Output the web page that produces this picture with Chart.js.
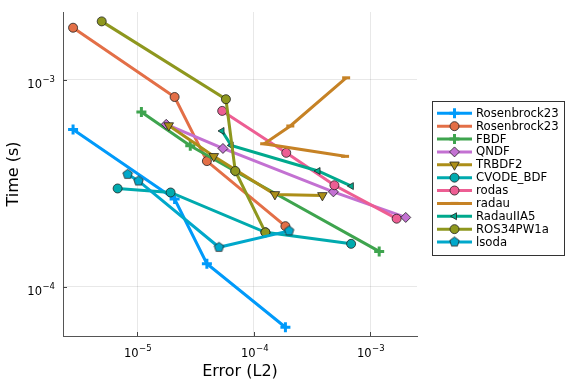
<!DOCTYPE html>
<html>
<head>
<meta charset="utf-8">
<script src="https://cdn.jsdelivr.net/npm/chart.js@4"></script>
<style>
  html, body { margin: 0; padding: 0; background: #fff; }
</style>
</head>
<body>
<canvas id="chart" width="576" height="384"></canvas>
<script>
// error (L2) and time (s) per solver
const rosenAErr = [2.83e-6, 2.10e-5, 3.97e-5, 1.87e-4];
const rosenATime = [5.74e-4, 2.65e-4, 1.29e-4, 6.37e-5];
const rosenBErr = [2.83e-6, 2.10e-5, 3.97e-5, 1.87e-4];
const rosenBTime = [1.78e-3, 8.24e-4, 4.04e-4, 1.96e-4];
const fbdfErr = [1.09e-5, 2.86e-5, 6.95e-5, 1.19e-3];
const fbdfTime = [6.98e-4, 4.79e-4, 3.61e-4, 1.48e-4];
const qndfErr = [1.78e-5, 5.45e-5, 4.82e-4, 2.01e-3];
const qndfTime = [6.08e-4, 4.65e-4, 2.87e-4, 2.16e-4];
const trbdf2Err = [1.87e-5, 4.55e-5, 1.52e-4, 3.88e-4];
const trbdf2Time = [6.00e-4, 4.26e-4, 2.79e-4, 2.76e-4];
const cvodeErr = [6.82e-6, 1.94e-5, 1.26e-4, 6.84e-4];
const cvodeTime = [2.98e-4, 2.85e-4, 1.83e-4, 1.61e-4];
const rodasErr = [5.37e-5, 1.90e-4, 4.92e-4, 1.68e-3];
const rodasTime = [7.06e-4, 4.43e-4, 3.09e-4, 2.13e-4];
const radauErr = [6.07e-4, 1.23e-4, 2.06e-4, 6.20e-4];
const radauTime = [4.26e-4, 4.90e-4, 5.97e-4, 1.02e-3];
const radau5Err = [5.35e-5, 6.41e-5, 3.56e-4, 6.87e-4];
const radau5Time = [5.65e-4, 4.81e-4, 3.62e-4, 3.06e-4];
const rosPwErr = [4.98e-6, 5.78e-5, 6.95e-5, 1.26e-4];
const rosPwTime = [1.91e-3, 8.04e-4, 3.62e-4, 1.83e-4];
const lsodaErr = [8.31e-6, 1.03e-5, 5.04e-5, 2.01e-4];
const lsodaTime = [3.49e-4, 3.24e-4, 1.55e-4, 1.86e-4];

const errTicks = [1e-5, 1e-4, 1e-3];
const errTickExps = ["−5", "−4", "−3"];
const timeTicks = [1e-4, 1e-3];
const timeTickExps = ["−4", "−3"];

function makePentagon(color, r) {
  const c = document.createElement("canvas");
  const s = Math.ceil(2 * r + 3);
  c.width = s;
  c.height = s;
  const g = c.getContext("2d");
  g.beginPath();
  for (let k = 0; k < 5; k++) {
    const a = -Math.PI / 2 + (k * 2 * Math.PI) / 5;
    const px = s / 2 + r * Math.cos(a);
    const py = s / 2 + r * Math.sin(a);
    if (k) g.lineTo(px, py);
    else g.moveTo(px, py);
  }
  g.closePath();
  g.fillStyle = color;
  g.fill();
  g.lineWidth = 0.8;
  g.strokeStyle = "#222";
  g.stroke();
  return c;
}

const series = [
  { label: "Rosenbrock23", err: rosenAErr, time: rosenATime, color: "#009AFA", style: "cross", r: 5, rot: 0 },
  { label: "Rosenbrock23", err: rosenBErr, time: rosenBTime, color: "#E36F47", style: "circle", r: 4.5, rot: 0 },
  { label: "FBDF", err: fbdfErr, time: fbdfTime, color: "#3EA44E", style: "cross", r: 5, rot: 0 },
  { label: "QNDF", err: qndfErr, time: qndfTime, color: "#C371D2", style: "rectRot", r: 5, rot: 0 },
  { label: "TRBDF2", err: trbdf2Err, time: trbdf2Time, color: "#AC8E18", style: "triangle", r: 5.5, rot: 180 },
  { label: "CVODE_BDF", err: cvodeErr, time: cvodeTime, color: "#00AAAE", style: "circle", r: 4.5, rot: 0 },
  { label: "rodas", err: rodasErr, time: rodasTime, color: "#ED5E93", style: "circle", r: 4.5, rot: 0 },
  { label: "radau", err: radauErr, time: radauTime, color: "#C68225", style: "line", r: 4, rot: 0 },
  { label: "RadauIIA5", err: radau5Err, time: radau5Time, color: "#00A98D", style: "triangle", r: 4, rot: -90 },
  { label: "ROS34PW1a", err: rosPwErr, time: rosPwTime, color: "#8E971E", style: "circle", r: 4.5, rot: 0 },
  { label: "lsoda", err: lsodaErr, time: lsodaTime, color: "#00A8CB", style: "pentagon", r: 5, rot: 0 },
];

const datasets = series.map((s, i) => {
  const outline = s.style === "cross" || s.style === "line";
  const ps = s.style === "pentagon" ? makePentagon(s.color, s.r) : s.style;
  return {
    label: s.label,
    data: s.err.map((e, k) => ({ x: e, y: s.time[k] })),
    showLine: true,
    borderColor: s.color,
    backgroundColor: s.color,
    borderWidth: 3,
    tension: 0,
    pointStyle: ps,
    pointRadius: s.r,
    pointRotation: s.rot,
    pointBackgroundColor: s.color,
    pointBorderColor: outline ? s.color : "#222",
    pointBorderWidth: outline ? 3 : 0.8,
    order: series.length - i,
  };
});

// tick marks, 10^n tick labels and the legend box
const extras = {
  id: "extras",
  afterDraw(chart) {
    const ctx = chart.ctx;
    const xs = chart.scales.x, ys = chart.scales.y;
    ctx.save();
    ctx.strokeStyle = "#444";
    ctx.lineWidth = 1;
    ctx.fillStyle = "#000";
    errTicks.forEach((v, i) => {
      const px = Math.round(xs.getPixelForValue(v)) + 0.5;
      ctx.beginPath();
      ctx.moveTo(px, ys.bottom);
      ctx.lineTo(px, ys.bottom - 4);
      ctx.stroke();
      ctx.font = "11.5px 'DejaVu Sans'";
      const w1 = ctx.measureText("10").width;
      ctx.font = "8.5px 'DejaVu Sans'";
      const w2 = ctx.measureText(errTickExps[i]).width;
      const x0 = px - (w1 + w2) / 2;
      ctx.textAlign = "left";
      ctx.textBaseline = "alphabetic";
      ctx.font = "11.5px 'DejaVu Sans'";
      ctx.fillText("10", x0, ys.bottom + 21);
      ctx.font = "8.5px 'DejaVu Sans'";
      ctx.fillText(errTickExps[i], x0 + w1 + 0.5, ys.bottom + 15);
    });
    timeTicks.forEach((v, i) => {
      const py = Math.round(ys.getPixelForValue(v)) + 0.5;
      ctx.beginPath();
      ctx.moveTo(xs.left, py);
      ctx.lineTo(xs.left + 4, py);
      ctx.stroke();
      ctx.font = "8.5px 'DejaVu Sans'";
      const w2 = ctx.measureText(timeTickExps[i]).width;
      const xr = xs.left - 8;
      ctx.textAlign = "left";
      ctx.textBaseline = "alphabetic";
      ctx.fillText(timeTickExps[i], xr - w2, py + 1);
      ctx.font = "11.5px 'DejaVu Sans'";
      const w1 = ctx.measureText("10").width;
      ctx.fillText("10", xr - w2 - 0.5 - w1, py + 7);
    });

    const bx = 432.5, by = 101.5, bw = 132, bh = 154;
    ctx.fillStyle = "#fff";
    ctx.fillRect(bx, by, bw, bh);
    ctx.strokeStyle = "#333";
    ctx.lineWidth = 1;
    ctx.strokeRect(bx, by, bw, bh);
    ctx.font = "11.7px 'DejaVu Sans'";
    ctx.textAlign = "left";
    ctx.textBaseline = "middle";
    datasets.forEach((d, i) => {
      const y = 113.3 + i * 12.87;
      ctx.strokeStyle = d.borderColor;
      ctx.lineWidth = 3;
      ctx.beginPath();
      ctx.moveTo(437, y);
      ctx.lineTo(472, y);
      ctx.stroke();
      ctx.fillStyle = d.pointBackgroundColor;
      ctx.strokeStyle = d.pointBorderColor;
      ctx.lineWidth = d.pointBorderWidth;
      Chart.helpers.drawPoint(ctx, {
        pointStyle: d.pointStyle,
        rotation: d.pointRotation,
        radius: d.pointRadius,
        borderWidth: d.pointBorderWidth,
      }, 454.5, y);
      ctx.fillStyle = "#000";
      ctx.fillText(d.label, 476, y + 0.5);
    });
    ctx.restore();
  },
};

Chart.defaults.font.family = "'DejaVu Sans'";
Chart.defaults.color = "#000";

new Chart(document.getElementById("chart"), {
  type: "scatter",
  data: { datasets },
  options: {
    responsive: false,
    animation: false,
    layout: { padding: { left: 0, right: 159, top: 12, bottom: 0 } },
    plugins: { legend: { display: false }, tooltip: { enabled: false } },
    scales: {
      x: {
        type: "logarithmic",
        min: 2.32e-6,
        max: 2.51e-3,
        afterBuildTicks: (s) => { s.ticks = errTicks.map((v) => ({ value: v })); },
        afterFit: (s) => { s.height = 48; },
        ticks: { display: false },
        grid: { color: "rgba(0,0,0,0.09)", lineWidth: 1, drawTicks: false },
        border: { display: true, color: "#555", width: 1 },
        title: { display: true, text: "Error (L2)", font: { size: 16 }, padding: { top: 0, bottom: 3 } },
      },
      y: {
        type: "logarithmic",
        min: 5.78e-5,
        max: 2.12e-3,
        afterBuildTicks: (s) => { s.ticks = timeTicks.map((v) => ({ value: v })); },
        afterFit: (s) => { s.width = 63; },
        ticks: { display: false },
        grid: { color: "rgba(0,0,0,0.09)", lineWidth: 1, drawTicks: false },
        border: { display: true, color: "#555", width: 1 },
        title: { display: true, text: "Time (s)", font: { size: 16 }, padding: { top: 4, bottom: 0 } },
      },
    },
  },
  plugins: [extras],
});
</script>
</body>
</html>
